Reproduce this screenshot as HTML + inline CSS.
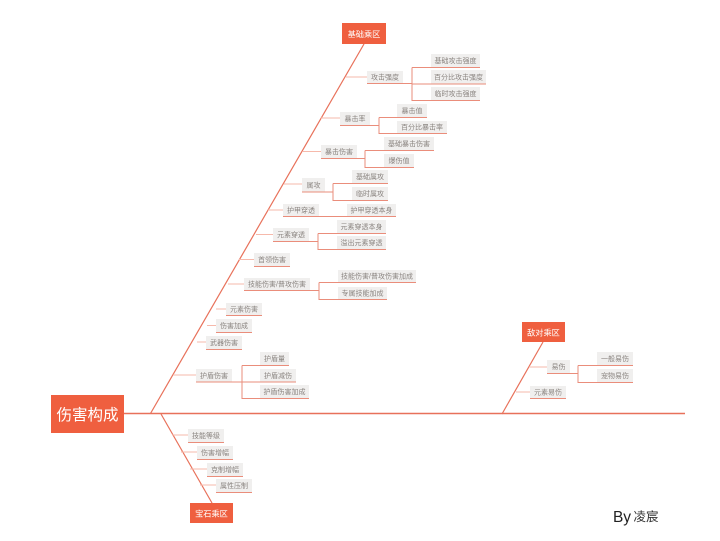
<!DOCTYPE html>
<html><head><meta charset="utf-8">
<style>
html,body{margin:0;padding:0;background:#fff;width:720px;height:541px;overflow:hidden}
svg{display:block;filter:blur(.35px)}
text{font-family:"Liberation Sans","Noto Sans CJK SC",sans-serif;text-anchor:middle}
.n{fill:#f0efee}
.t{font-size:7px;fill:#8a8480}
.w{fill:#fff}
.s{stroke:#e8715a;stroke-width:1.2;fill:none}
.b{stroke:#f6b9ab;stroke-width:1;fill:none}
.c{stroke:#ea8d7b;stroke-width:1;fill:none}
.h{fill:#ef5f3f}
</style></head><body>
<svg width="720" height="541" viewBox="0 0 720 541" xmlns="http://www.w3.org/2000/svg">
<path class="s" d="M124 413.500H685" style="stroke-width:1.500"/>
<path class="s" d="M150.500 413.500L364 44"/>
<path class="s" d="M161 414L212 503"/>
<path class="s" d="M502 414L543 342"/>

<path class="b" d="M346 77H367M321 118H340M303 151.500H321M284 184H302M268 210H283M256 234.500H273M239 259.500H254M228 284H244M216 309H226M207 325.500H216M197 342H206M173 375H196M172 435H188M181 452H197M190 469H207M200 485H216M529 367H547M516 392H530"/>

<path class="c" d="M403 83.500H412M412 67.500H431M412 67.500V100.500H431M412 84H431"/>
<path class="c" d="M370 125.500H379M379 117.500H397M379 117.500V133.500H397"/>
<path class="c" d="M357 158.500H365M365 150.500H384M365 150.500V167.500H384"/>
<path class="c" d="M325 192H333M333 183.500H352M333 183.500V200.500H352"/>
<path class="c" d="M319 216.500H347"/>
<path class="c" d="M309 241.500H318M318 233.500H337M318 233.500V249.500H337"/>
<path class="c" d="M310 290.500H319M319 282.500H338M319 282.500V299.500H338"/>
<path class="c" d="M232 382H260M242 365.500H260M242 365.500V398.500H260"/>
<path class="c" d="M570 373.500H578M578 365.500H597M578 365.500V382.500H597"/>

<rect class="h" x="51" y="395" width="73" height="38"/>
<text class="w" x="87.500" y="420" font-size="15.500">伤害构成</text>
<rect class="h" x="342" y="23" width="44" height="21"/>
<text class="w" x="364" y="37" font-size="8.200">基础乘区</text>
<rect class="h" x="190" y="503" width="43" height="20"/>
<text class="w" x="211.500" y="516.500" font-size="8.200">宝石乘区</text>
<rect class="h" x="522" y="322" width="43" height="20"/>
<text class="w" x="543.500" y="335.500" font-size="8.200">敌对乘区</text>

<g>
<rect class="n" x="367" y="71" width="36" height="12"/><text class="t" x="385" y="79.500">攻击强度</text>
<rect class="n" x="431" y="54" width="49" height="13"/><text class="t" x="455.500" y="63">基础攻击强度</text>
<rect class="n" x="431" y="70" width="55" height="14"/><text class="t" x="458.500" y="79.500">百分比攻击强度</text>
<rect class="n" x="431" y="87" width="49" height="13"/><text class="t" x="455.500" y="96">临时攻击强度</text>

<rect class="n" x="340" y="112" width="30" height="13"/><text class="t" x="355" y="121">暴击率</text>
<rect class="n" x="397" y="104" width="30" height="13"/><text class="t" x="412" y="113">暴击值</text>
<rect class="n" x="397" y="121" width="50" height="12"/><text class="t" x="422" y="129.500">百分比暴击率</text>

<rect class="n" x="321" y="145" width="36" height="13"/><text class="t" x="339" y="154">暴击伤害</text>
<rect class="n" x="384" y="137" width="50" height="13"/><text class="t" x="409" y="146">基础暴击伤害</text>
<rect class="n" x="384" y="154" width="30" height="13"/><text class="t" x="399" y="163">爆伤值</text>

<rect class="n" x="302" y="178" width="23" height="14"/><text class="t" x="313.500" y="187.500">属攻</text>
<rect class="n" x="352" y="170" width="36" height="13"/><text class="t" x="370" y="179">基础属攻</text>
<rect class="n" x="352" y="187" width="36" height="13"/><text class="t" x="370" y="196">临时属攻</text>

<rect class="n" x="283" y="204" width="36" height="12"/><text class="t" x="301" y="212.500">护甲穿透</text>
<rect class="n" x="347" y="204" width="49" height="12"/><text class="t" x="371.500" y="212.500">护甲穿透本身</text>

<rect class="n" x="273" y="228" width="36" height="13"/><text class="t" x="291" y="237">元素穿透</text>
<rect class="n" x="337" y="220" width="49" height="13"/><text class="t" x="361.500" y="229">元素穿透本身</text>
<rect class="n" x="337" y="236" width="49" height="13"/><text class="t" x="361.500" y="245">溢出元素穿透</text>

<rect class="n" x="254" y="253" width="36" height="13"/><text class="t" x="272" y="262">首领伤害</text>

<rect class="n" x="244" y="278" width="66" height="12"/><text class="t" x="277" y="286.500">技能伤害/普攻伤害</text>
<rect class="n" x="338" y="270" width="78" height="12"/><text class="t" x="377" y="278.500">技能伤害/普攻伤害加成</text>
<rect class="n" x="338" y="287" width="49" height="12"/><text class="t" x="362.500" y="295.500">专属技能加成</text>

<rect class="n" x="226" y="303" width="36" height="12"/><text class="t" x="244" y="311.500">元素伤害</text>
<rect class="n" x="216" y="319" width="36" height="13"/><text class="t" x="234" y="328">伤害加成</text>
<rect class="n" x="206" y="336" width="36" height="13"/><text class="t" x="224" y="345">武器伤害</text>

<rect class="n" x="196" y="369" width="36" height="13"/><text class="t" x="214" y="378">护盾伤害</text>
<rect class="n" x="260" y="352" width="29" height="13"/><text class="t" x="274.500" y="361">护盾量</text>
<rect class="n" x="260" y="369" width="36" height="13"/><text class="t" x="278" y="378">护盾减伤</text>
<rect class="n" x="260" y="385" width="49" height="13"/><text class="t" x="284.500" y="394">护盾伤害加成</text>

<rect class="n" x="188" y="429" width="36" height="13"/><text class="t" x="206" y="438">技能等级</text>
<rect class="n" x="197" y="446" width="36" height="13"/><text class="t" x="215" y="455">伤害增幅</text>
<rect class="n" x="207" y="463" width="36" height="13"/><text class="t" x="225" y="472">克制增幅</text>
<rect class="n" x="216" y="479" width="36" height="13"/><text class="t" x="234" y="488">属性压制</text>

<rect class="n" x="547" y="360" width="23" height="13"/><text class="t" x="558.500" y="369">易伤</text>
<rect class="n" x="597" y="352" width="36" height="13"/><text class="t" x="615" y="361">一般易伤</text>
<rect class="n" x="597" y="369" width="36" height="13"/><text class="t" x="615" y="378">宠物易伤</text>
<rect class="n" x="530" y="386" width="36" height="12"/><text class="t" x="548" y="394.500">元素易伤</text>
</g>

<path class="c" d="M367 83.500H403M431 67.500H480M431 84H486M431 100.500H480M340 125.500H370M397 117.500H427M397 133.500H447M321 158.500H357M384 150.500H434M384 167.500H414M302 192H325M352 183.500H388M352 200.500H388M283 216.500H396M273 241.500H309M337 233.500H386M337 249.500H386M254 266.500H290M244 290.500H310M338 282.500H416M338 299.500H387M226 315.500H262M216 332.500H252M206 349.500H242M196 382H232M260 365.500H289M260 382H296M260 398.500H309M188 442.500H224M197 459.500H233M207 476.500H243M216 492.500H252M547 373.500H570M597 365.500H633M597 382.500H633M530 398.500H566"/>

<text x="622" y="522" font-size="15.500" fill="#222">By</text>
<text x="646" y="521" font-size="12.500" fill="#333">凌宸</text>
</svg>
</body></html>
